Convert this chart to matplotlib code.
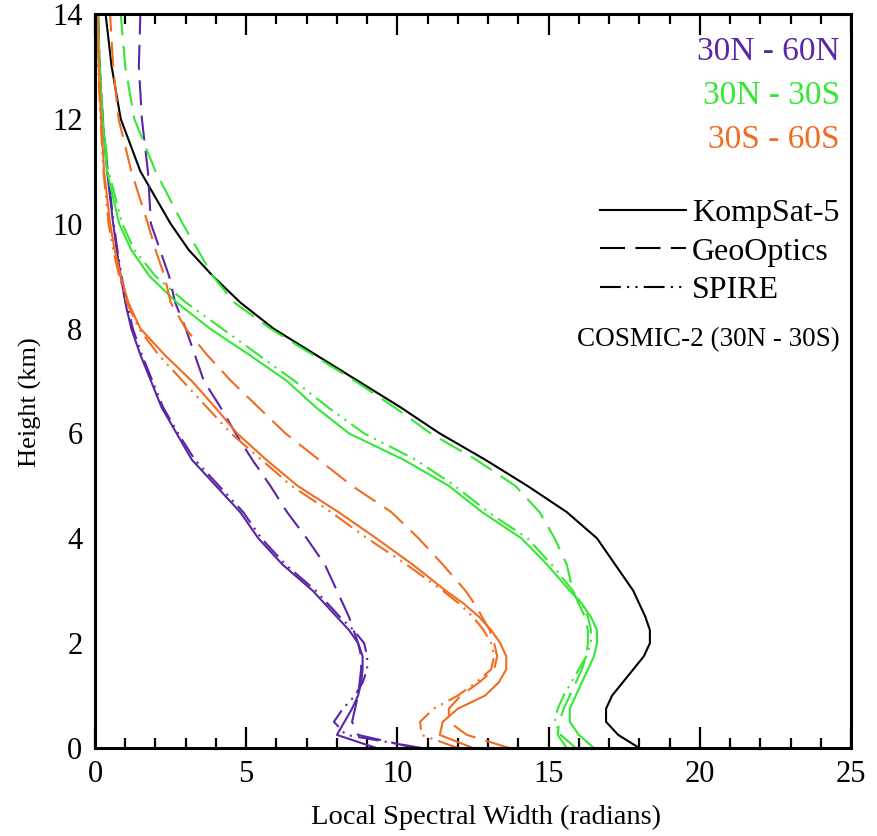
import matplotlib
matplotlib.use("Agg")
import matplotlib.pyplot as plt
from matplotlib.lines import Line2D
from matplotlib.ticker import MultipleLocator

plt.rcParams['font.family'] = ['Liberation Serif', 'DejaVu Serif']

# Heights (km)
heights = [0, 0.25, 0.5, 0.75, 1.0, 1.25, 1.5, 1.75, 2.0, 2.25, 2.5, 2.75, 3.0, 3.5, 4.0, 4.5,
           5.0, 5.5, 6.0, 6.5, 7.0, 7.5, 8.0, 8.5, 9.0, 9.5, 10.0, 11.0, 12.0, 13.0, 14.0]

# COSMIC-2 (30N - 30S)
cosmic2 = [18.0, 17.3, 16.9, 16.9, 17.1, 17.45, 17.8, 18.15, 18.35, 18.35, 18.2, 18.0, 17.8, 17.2,
           16.6, 15.6, 14.3, 12.9, 11.4, 10.1, 8.7, 7.3, 5.9, 4.8, 3.9, 3.1, 2.5, 1.5, 0.85, 0.55, 0.35]

# 30N - 60N
k5_n = [9.3, 8.0, 8.25, 8.5, 8.7, 8.8, 8.85, 8.85, 8.7, 8.4, 8.0, 7.6, 7.2, 6.2, 5.4, 4.8,
        4.0, 3.2, 2.7, 2.2, 1.85, 1.5, 1.2, 1.0, 0.85, 0.72, 0.6, 0.4, 0.25, 0.15, 0.1]
geo_n = [10.6, 8.7, 8.5, 8.6, 8.7, 8.75, 8.8, 8.8, 8.7, 8.55, 8.4, 8.2, 8.0, 7.6, 7.0, 6.35,
         5.8, 5.2, 4.65, 4.15, 3.6, 3.3, 3.0, 2.65, 2.45, 2.15, 1.85, 1.75, 1.55, 1.45, 1.5]
spire_n = [10.8, 8.3, 7.9, 8.2, 8.6, 8.85, 9.0, 9.0, 8.9, 8.55, 8.1, 7.7, 7.3, 6.3, 5.5, 4.9,
           4.1, 3.3, 2.75, 2.25, 1.9, 1.55, 1.25, 1.05, 0.88, 0.74, 0.62, 0.42, 0.26, 0.16, 0.1]

# 30N - 30S
k5_eq = [16.5, 16.0, 15.7, 15.7, 15.9, 16.1, 16.3, 16.5, 16.6, 16.6, 16.4, 16.1, 15.7, 14.95,
         14.1, 12.8, 11.7, 10.2, 8.4, 7.3, 6.35, 5.1, 3.8, 2.7, 1.8, 1.2, 0.8, 0.4, 0.25, 0.15, 0.1]
geo_eq = [15.6, 15.3, 15.35, 15.5, 15.7, 15.9, 16.1, 16.25, 16.3, 16.3, 16.2, 16.0, 15.8, 15.6,
          15.2, 14.7, 13.9, 12.6, 11.1, 9.9, 8.6, 7.2, 5.8, 4.6, 3.9, 3.4, 2.9, 2.0, 1.3, 1.0, 0.85]
spire_eq = [15.9, 15.4, 15.2, 15.3, 15.5, 15.75, 16.0, 16.25, 16.4, 16.4, 16.3, 16.1, 15.8, 15.1,
            14.3, 13.0, 11.9, 10.6, 8.9, 7.7, 6.6, 5.4, 4.2, 3.0, 2.0, 1.3, 0.9, 0.45, 0.25, 0.15, 0.1]

# 30S - 60S
k5_s = [12.5, 11.4, 11.5, 12.0, 12.9, 13.35, 13.6, 13.6, 13.4, 13.1, 12.7, 12.2, 11.6, 10.5,
        9.3, 8.05, 6.7, 5.66, 4.7, 3.97, 3.2, 2.3, 1.5, 1.1, 0.85, 0.65, 0.5, 0.3, 0.2, 0.12, 0.08]
geo_s = [13.7, 12.3, 11.7, 11.7, 12.1, 12.7, 13.2, 13.3, 13.2, 13.05, 12.8, 12.55, 12.25, 11.5,
         10.7, 9.8, 8.5, 7.4, 6.3, 5.4, 4.5, 3.7, 3.0, 2.5, 2.3, 2.0, 1.75, 1.2, 0.78, 0.6, 0.5]
spire_s = [12.0, 10.8, 10.75, 11.2, 12.0, 12.6, 13.1, 13.2, 13.1, 12.85, 12.5, 12.05, 11.5, 10.3,
           9.0, 7.8, 6.5, 5.5, 4.5, 3.7, 2.9, 2.1, 1.45, 1.05, 0.8, 0.6, 0.45, 0.28, 0.18, 0.1, 0.06]

region_labels = ["30N - 60N", "30N - 30S", "30S - 60S"]
mission_labels = ["KompSat-5", "GeoOptics", "SPIRE"]
cosmic_label = "COSMIC-2 (30N - 30S)"

purple = '#5A25A8'
green = '#33E833'
orange = '#F26B20'
region_colors = [purple, green, orange]

ls_solid = '-'
ls_dash = (0, (12, 5))
ls_spire = (0, (10, 3, 1, 3, 1, 3))
mission_styles = [ls_solid, ls_dash, ls_spire]

fig = plt.figure(figsize=(8.78, 8.36), dpi=100)
ax = fig.add_axes([95/878, 88/836, 756/878, 734/836])

lw = 1.5
ax.plot(cosmic2, heights, color='black', lw=lw, ls=ls_solid)
series = [[k5_n, geo_n, spire_n], [k5_eq, geo_eq, spire_eq], [k5_s, geo_s, spire_s]]
for color, group in zip(region_colors, series):
    for vals, ls in zip(group, mission_styles):
        ax.plot(vals, heights, color=color, lw=lw, ls=ls)

ax.set_xlim(0, 25)
ax.set_ylim(0, 14)
ax.xaxis.set_major_locator(MultipleLocator(5))
ax.xaxis.set_minor_locator(MultipleLocator(1))
ax.yaxis.set_major_locator(MultipleLocator(2))
ax.tick_params(axis='x', which='both', direction='in', top=True, bottom=True, width=1.6,
               labelsize=22, pad=9)
ax.tick_params(axis='x', which='major', length=15)
ax.tick_params(axis='x', which='minor', length=7)
ax.tick_params(axis='y', which='both', length=0, labelsize=22, pad=9)
for sp in ax.spines.values():
    sp.set_linewidth(2.2)

ax.set_xlabel("Local Spectral Width (radians)", fontsize=20.5)
ax.xaxis.set_label_coords((486 - 95) / 756, (748 - 805) / 734)
ax.set_ylabel("Height (km)", fontsize=19)
ax.yaxis.set_label_coords((42 - 95) / 756, (748 - 402) / 734)

# region labels
for i, (lab, c) in enumerate(zip(region_labels, region_colors)):
    ax.text(0.985, (748 - (52 + i * 44)) / 734, lab, color=c, fontsize=24, ha='right',
            va='center', transform=ax.transAxes)

handles = [Line2D([], [], color='black', lw=lw, ls=ls) for ls in mission_styles]
leg = ax.legend(handles, mission_labels, loc='upper right', bbox_to_anchor=(0.985, 0.748),
                frameon=False, fontsize=23, handlelength=2.7, handletextpad=0.2,
                labelspacing=0.28, borderpad=0, borderaxespad=0)

ax.text(0.985, 0.557, cosmic_label, color='black', fontsize=19.5, ha='right', va='center',
        transform=ax.transAxes)

fig.savefig("out.png", dpi=100)
